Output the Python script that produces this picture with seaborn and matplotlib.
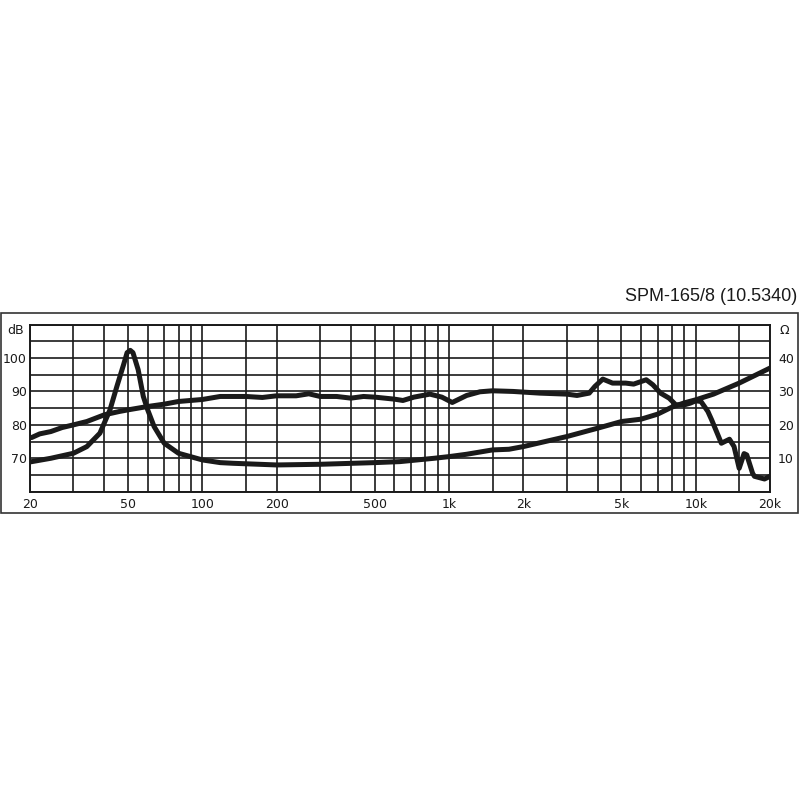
import numpy as np
import pandas as pd
import seaborn as sns
import matplotlib.pyplot as plt
from matplotlib.patches import Rectangle
from matplotlib.ticker import NullLocator

# SPL curve (left axis, dB)
spl_freq = [20.3, 21.9, 24.3, 27, 30, 34, 40, 46, 50, 60, 70, 80, 100, 118, 150, 175,
            200, 240, 270, 300, 350, 400, 450, 500, 600, 650, 720, 836, 935, 1030,
            1178, 1334, 1500, 1820, 2330, 3000, 3300, 3700, 3900, 4200, 4600, 5200,
            5600, 6300, 6700, 7200, 7800, 8300, 9000, 9500, 10000, 10500, 11200,
            11600, 12700, 13700, 14300, 15000, 15700, 16100, 17000, 17300, 19000, 20000]
spl_db = [76.2, 77.3, 78.0, 79.2, 80.0, 81.0, 83.0, 84.0, 84.5, 85.5, 86.2, 87.0, 87.6,
          88.5, 88.5, 88.2, 88.7, 88.7, 89.3, 88.5, 88.5, 88.0, 88.5, 88.3, 87.7, 87.3,
          88.3, 89.2, 88.3, 86.7, 88.8, 89.9, 90.2, 90.0, 89.5, 89.2, 88.8, 89.5, 91.5,
          93.7, 92.5, 92.5, 92.2, 93.5, 92.0, 89.5, 88.0, 86.0, 86.0, 86.5, 87.2, 87.0,
          84.0, 81.5, 74.5, 75.7, 73.5, 67.0, 71.4, 71.0, 65.5, 64.6, 63.8, 64.6]

# impedance curve (right axis, ohm)
imp_freq = [20, 24.3, 30, 34, 38.4, 42.2, 45, 47.9, 49.5, 51, 52.3, 54.9, 57.6, 60, 63.7,
            70, 80, 100, 118, 133, 200, 300, 500, 632, 870, 1000, 1178, 1500, 1750,
            2000, 3000, 4000, 5000, 6000, 7000, 8000, 9000, 10000, 11800, 15000, 20000]
imp_ohm = [8.9, 10.0, 11.5, 13.5, 17.5, 24.5, 31.5, 38.0, 41.6, 42.3, 41.6, 36.5, 28.5, 24.5,
           19.5, 14.5, 11.5, 9.5, 8.7, 8.5, 8.0, 8.2, 8.7, 9.0, 10.0, 10.5, 11.2, 12.5,
           12.7, 13.5, 16.5, 19.0, 21.0, 21.7, 23.2, 25.3, 26.6, 27.5, 29.2, 32.5, 37.0]

grid_freqs = [20, 30, 40, 50, 60, 70, 80, 90, 100, 150, 200, 300, 400, 500, 600, 700,
              800, 900, 1000, 1500, 2000, 3000, 4000, 5000, 6000, 7000, 8000, 9000,
              10000, 15000, 20000]
freq_labels = {20: "20", 50: "50", 100: "100", 200: "200", 500: "500", 1000: "1k",
               2000: "2k", 5000: "5k", 10000: "10k", 20000: "20k"}
db_ticks = [60, 65, 70, 75, 80, 85, 90, 95, 100, 105, 110]
db_labels = {70: "70", 80: "80", 90: "90", 100: "100"}
ohm_ticks = [0, 5, 10, 15, 20, 25, 30, 35, 40, 45, 50]
ohm_labels = {10: "10", 20: "20", 30: "30", 40: "40"}

sns.set_style("white")
plt.rcParams["font.family"] = ["DejaVu Sans"]

ink = "#1a1a1a"
fig = plt.figure(figsize=(8, 8), dpi=100)
ax = fig.add_axes([0.0375, 0.3854, 0.925, 0.2088])

sns.lineplot(x=spl_freq, y=spl_db, ax=ax, color=ink, lw=3.6, sort=False,
             estimator=None, solid_capstyle="round", solid_joinstyle="round", zorder=5)
ax.set_xscale("log")
ax.set_xlim(20, 20000)
ax.set_ylim(60, 110)
ax.set_xticks(grid_freqs)
ax.set_xticklabels([freq_labels.get(f, "") for f in grid_freqs])
ax.xaxis.set_minor_locator(NullLocator())
ax.set_yticks(db_ticks)
ax.set_yticklabels([db_labels.get(v, "") for v in db_ticks])
ax.grid(True, color=ink, lw=1.2)
ax.set_axisbelow(True)
ax.tick_params(axis="x", length=0, pad=4.5, labelsize=9, labelcolor=ink)
ax.tick_params(axis="y", length=0, pad=2.4, labelsize=9, labelcolor=ink)
for s in ax.spines.values():
    s.set_color(ink)
    s.set_linewidth(1.2)

ax2 = ax.twinx()
sns.lineplot(x=imp_freq, y=imp_ohm, ax=ax2, color=ink, lw=3.6, sort=False,
             estimator=None, solid_capstyle="round", solid_joinstyle="round")
ax2.set_ylim(0, 50)
ax2.set_yticks(ohm_ticks)
ax2.set_yticklabels([ohm_labels.get(v, "") for v in ohm_ticks])
ax2.tick_params(axis="y", length=0, pad=5.8, labelsize=9, labelcolor=ink)
ax2.set_xlim(20, 20000)
for s in ax2.spines.values():
    s.set_color(ink)
    s.set_linewidth(1.2)
ax.set_xlabel("")
ax.set_ylabel("")
ax2.set_ylabel("")

fig.text(0.03, 0.5866, "dB", ha="right", va="center", fontsize=9, color=ink)
fig.text(0.974, 0.5875, "\u03a9", ha="left", va="center", fontsize=9, color=ink)

fig.text(0.996, 0.6241, "SPM-165/8 (10.5340)", ha="right", va="baseline",
         fontsize=13, color=ink, family=["Liberation Sans", "DejaVu Sans"])

fig.add_artist(Rectangle((0.00125, 0.3591), 0.996, 0.2493, transform=fig.transFigure,
                         fill=False, lw=1.2, ec="#333333"))

fig.savefig("out.png", dpi=100)
plt.close(fig)
